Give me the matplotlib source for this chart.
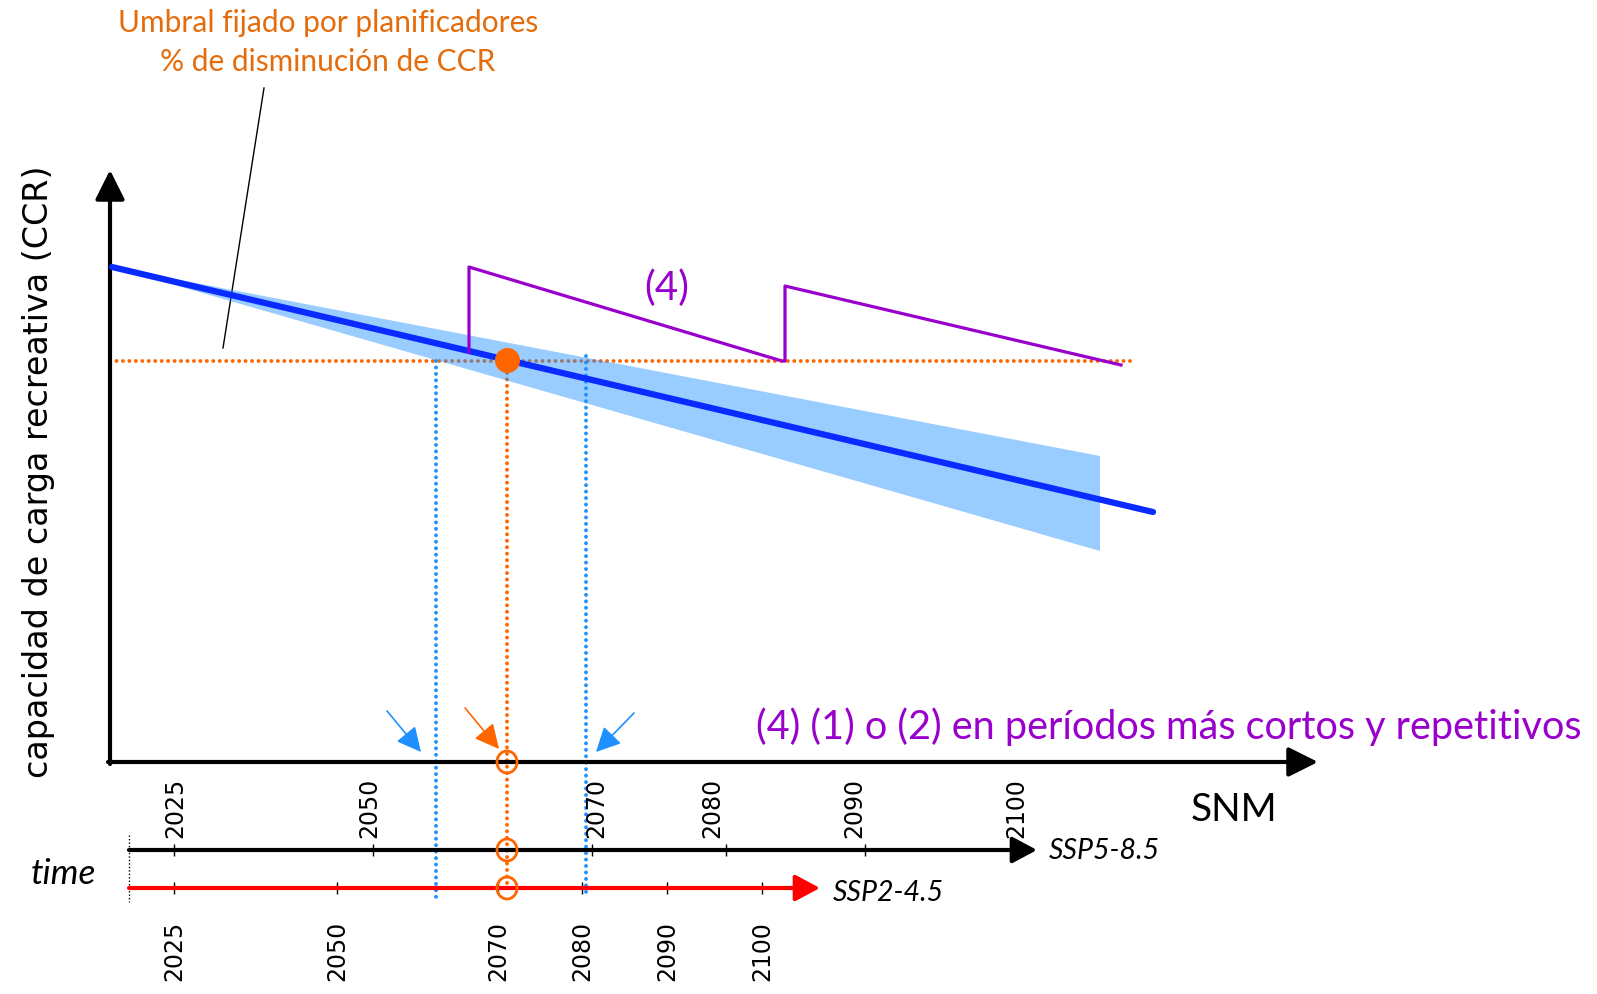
import matplotlib.pyplot as plt
from matplotlib.patches import Ellipse

# schematic in pixel units of the 1597x994 picture (y grows downward)
ccr_x = [112, 1153]
ccr_y = [267, 512]
band_x = [112, 1100, 1100]
band_y = [267, 456, 551]
umbral_y = 361
umbral_x = [110, 1131]
cruce = (507, 360)
opt4_x = [469, 469, 782, 785, 785, 1121]
opt4_y = [352, 267, 361, 361, 286, 365]
lim_inf_x = 436
lim_sup_x = 586

anios = ["2025", "2050", "2070", "2080", "2090", "2100"]
ssp5_ticks = [174, 373, 592, 726, 865]
ssp5_labels_x = [175, 369, 596, 712, 854, 1016]
ssp2_ticks = [174, 337, 498, 582, 667, 762]

naranja = "#FF6600"
naranja_txt = "#E46C0A"
morado = "#9900CC"
azul = "#0A2BFF"

fig = plt.figure(figsize=(15.97, 9.94), dpi=100)
ax = fig.add_axes([0, 0, 1, 1])
ax.set_xlim(0, 1597)
ax.set_ylim(994, 0)
ax.axis("off")

dots = dict(lw=2.8, dashes=(0.01, 1.65), dash_capstyle="round")

# threshold and projection lines
ax.plot(umbral_x, [umbral_y] * 2, color=naranja, zorder=2, **dots)
ax.plot([lim_inf_x] * 2, [umbral_y, 900], color="#1E90FF", zorder=2, **dots)
ax.plot([lim_sup_x] * 2, [356, 896], color="#1E90FF", zorder=2, **dots)
ax.plot([cruce[0]] * 2, [cruce[1], 888], color=naranja, zorder=2, **dots)

# uncertainty band and CCR line
ax.fill(band_x, band_y, color="#1E90FF", alpha=0.45, lw=0, zorder=3)
ax.plot(ccr_x, ccr_y, color=azul, lw=4.5, solid_capstyle="round", zorder=4)
ax.plot(opt4_x, opt4_y, color=morado, lw=2.3, zorder=4)
ax.plot(*cruce, "o", color=naranja, ms=17, zorder=5)

# main axes
big = dict(arrowstyle="-|>,head_length=1.8,head_width=0.9", color="k", lw=3,
           mutation_scale=10, shrinkA=0, shrinkB=0)
ax.annotate("", xy=(110, 170), xytext=(110, 764), arrowprops=big)
ax.annotate("", xy=(1318, 762), xytext=(108, 762), arrowprops=big)

# time axes
mid = dict(arrowstyle="-|>,head_length=1.5,head_width=0.8", lw=3,
           mutation_scale=10, shrinkA=0, shrinkB=0)
ax.annotate("", xy=(1037, 850), xytext=(129, 850), arrowprops=dict(color="k", **mid))
ax.annotate("", xy=(820, 888), xytext=(129, 888), arrowprops=dict(color="#FF0000", **mid))
ax.plot(ssp5_ticks, [850] * len(ssp5_ticks), "|", color="k", ms=9, mew=1)
ax.plot(ssp2_ticks, [888] * len(ssp2_ticks), "|", color="k", ms=9, mew=1)
ax.plot([129, 129], [835, 902], color="k", lw=1, dashes=(1, 1.5))

for x, a in zip(ssp5_labels_x, anios):
    ax.text(x, 838, a, rotation=90, ha="center", va="bottom", fontsize=17,
            family="DejaVu Sans")
for x, a in zip(ssp2_ticks, anios):
    ax.text(x, 921, a, rotation=90, ha="center", va="top", fontsize=17,
            family="DejaVu Sans")

# hollow markers at the threshold year
for y in [762, 850, 888]:
    ax.add_patch(Ellipse((cruce[0], y), 20, 22, fill=False, ec=naranja, lw=2, zorder=6))

# small pointer arrows
small = dict(arrowstyle="-|>,head_length=1.5,head_width=0.75", lw=1.2,
             mutation_scale=10, shrinkA=0, shrinkB=0)
ax.annotate("", xy=(421, 752), xytext=(387, 711), arrowprops=dict(color="#1E90FF", **small))
ax.annotate("", xy=(499, 749), xytext=(465, 708), arrowprops=dict(color=naranja, **small))
ax.annotate("", xy=(596, 752), xytext=(634, 713), arrowprops=dict(color="#1E90FF", **small))

# texts
ax.plot([264, 223], [88, 348], color="k", lw=1)
ax.text(328, 23, "Umbral fijado por planificadores", ha="center", va="center",
        color=naranja_txt, fontsize=21.5, family="Lato")
ax.text(328, 62, "% de disminución de CCR", ha="center", va="center",
        color=naranja_txt, fontsize=21.5, family="Lato")
ax.text(39, 472, "capacidad de carga recreativa (CCR)", rotation=90, ha="center",
        va="center", fontsize=24, family="DejaVu Sans")
ax.text(667, 288, "(4)", ha="center", va="center", color=morado, fontsize=29, family="Lato")
ax.text(1581, 727, "(4) (1) o (2) en períodos más cortos y repetitivos", ha="right",
        va="center", color=morado, fontsize=28.5, family="Lato")
ax.text(1234, 810, "SNM", ha="center", va="center", fontsize=28, family="Lato")
ax.text(63, 874, "time", ha="center", va="center", fontsize=25.5, family="Lato",
        style="italic")
ax.text(1049, 851, "SSP5-8.5", ha="left", va="center", fontsize=20.5, family="Lato",
        style="italic")
ax.text(833, 893, "SSP2-4.5", ha="left", va="center", fontsize=20.5, family="Lato",
        style="italic")

fig.savefig("out.png", dpi=100)
